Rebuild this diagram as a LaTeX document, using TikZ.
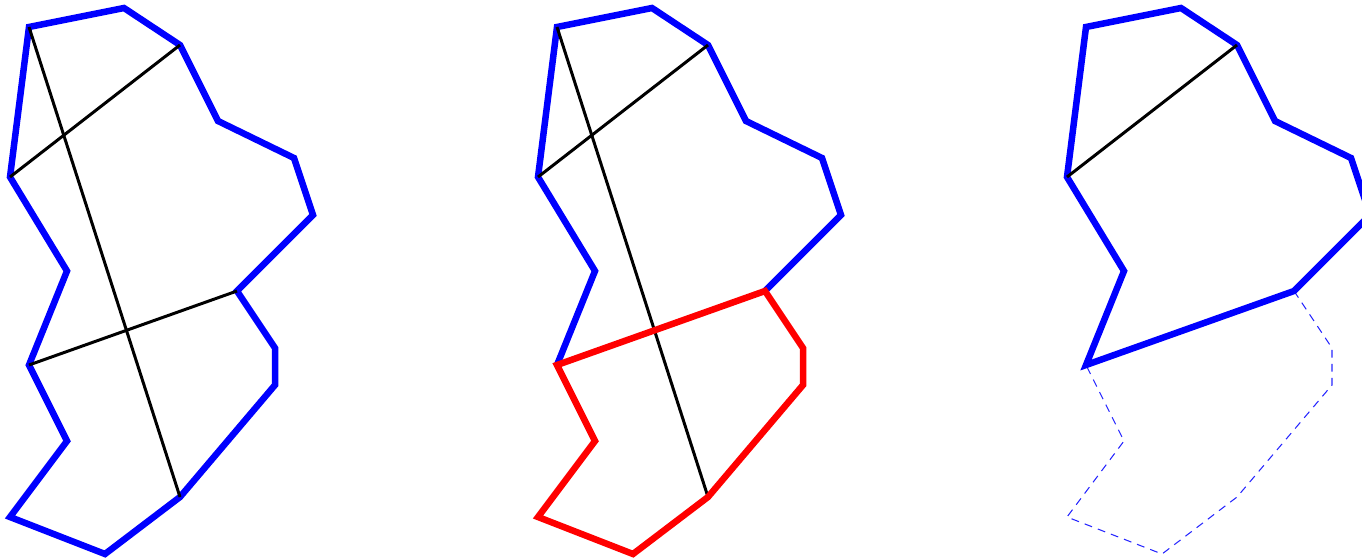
\documentclass[tikz,border=0pt]{standalone}
\usetikzlibrary{calc}
\begin{document}
\begin{tikzpicture}[x=0.02cm, y=-0.02cm,
  outline/.style={draw=blue, line width=3.7pt},
  chord/.style={draw=black, line width=1.7pt},
  cutline/.style={draw=red, line width=3.7pt},
  ghost/.style={draw=blue!85, line width=0.6pt, dash pattern=on 4.5pt off 3.5pt},
]
\clip (0,0) rectangle (1362,559);
% ====== VERTICES (same polygon, three panels) ======
\foreach \pan/\off in {a/0, b/528, c/1057}
  \foreach \i/\x/\y in {1/29/27, 2/124/8, 3/180/45, 4/218/121, 5/294/158,
      6/313/215, 7/237/291, 8/275/348, 9/275/385, 10/180/497, 11/105/554,
      12/10/517, 13/67/441, 14/29/365, 15/67/271, 16/10/177}
    \coordinate (\pan\i) at (\x+\off,\y);
%
% ====== PANEL (a) ======
\draw[outline] (a1) -- (a2) -- (a3) -- (a4) -- (a5) -- (a6) -- (a7) -- (a8)
  -- (a9) -- (a10) -- (a11) -- (a12) -- (a13) -- (a14) -- (a15) -- (a16) -- cycle;
\draw[chord] (a1) -- (a10);
\draw[chord] (a3) -- (a16);
\draw[chord] (a7) -- (a14);
%
% ====== PANEL (b) ======
\draw[outline] (b7) -- (b6) -- (b5) -- (b4) -- (b3) -- (b2) -- (b1) -- (b16)
  -- (b15) -- (b14);
\draw[chord] (b1) -- (b10);
\draw[chord] (b3) -- (b16);
\draw[cutline] (b7) -- (b8) -- (b9) -- (b10) -- (b11) -- (b12) -- (b13)
  -- (b14) -- cycle;
%
% ====== PANEL (c) ======
\draw[ghost] (c7) -- (c8) -- (c9) -- (c10) -- (c11) -- (c12) -- (c13) -- (c14);
\draw[outline] (c7) -- (c6) -- (c5) -- (c4) -- (c3) -- (c2) -- (c1) -- (c16)
  -- (c15) -- (c14) -- cycle;
\draw[chord] (c3) -- (c16);
\end{tikzpicture}
\end{document}
